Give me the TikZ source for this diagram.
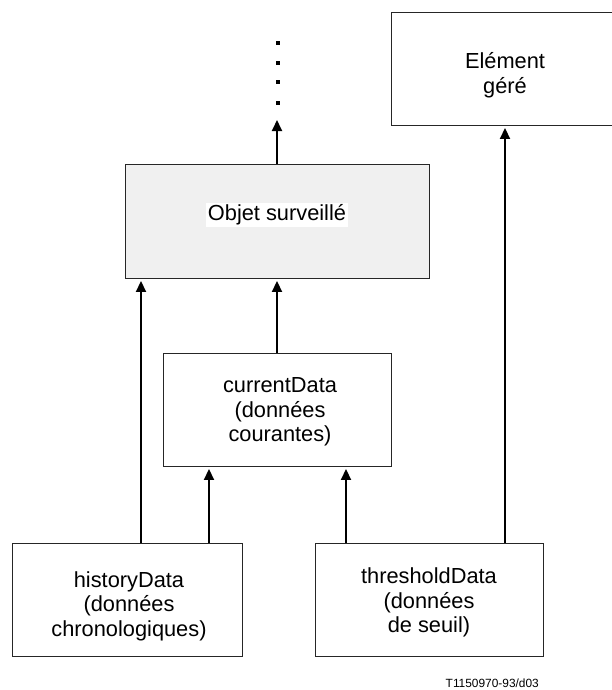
\documentclass[tikz,border=0pt]{standalone}
\usepackage{fontspec}
\setmainfont{Liberation Sans}
\usetikzlibrary{arrows.meta}
\begin{document}
\begin{tikzpicture}[x=1pt,y=-1pt,
  box/.style={draw=black!85, line width=0.9pt, minimum width=#1, minimum height=113pt,
    inner sep=0pt},
  box/.default=228pt,
  txt/.style={align=center, inner sep=0pt, font=\fontsize{21.8}{24.5}\selectfont},
  arr/.style={line width=1.8pt, -{Triangle[length=11pt,width=10pt]}, shorten >=2.5pt},
  dotsq/.style={fill=black}]
\useasboundingbox (0,0) rectangle (612,690);

% boxes
\node[box=304pt, minimum height=114pt, fill=black!6] (obj) at (277,221) {};
\node[box=222pt] (elem) at (502,68.5) {};
\node[box=228pt] (cur) at (277,409.5) {};
\node[box=230pt] (hist) at (127,599.5) {};
\node[box=228pt] (thr) at (429,599.5) {};

% box texts
\node[txt, fill=white, inner sep=1.5pt] (objtxt) at (277,215) {Objet surveillé};
\node[txt] (elemtxt) at (505,75) {Elément\\géré};
\node[txt] (curtxt) at (280,412) {currentData\\(données\\courantes)};
\node[txt] (histtxt) at (129,606) {historyData\\(données\\chronologiques)};
\node[txt] (thrtxt) at (429,602.5) {thresholdData\\(données\\de seuil)};

% continuation upward
\coordinate (top) at (277,120);
\draw[arr, shorten >=0pt] (obj.north) -- (top);
\foreach \y in {43,63,82,103}
  \fill[dotsq] (276,\y-2) rectangle (280,\y+2);

% connectors
\draw[arr] (cur.north) -- (obj.south);
\draw[arr] ([xshift=14pt]hist.north) -- ([xshift=14pt]hist.north |- obj.south);
\draw[arr] ([xshift=82pt]hist.north) -- ([xshift=82pt]hist.north |- cur.south);
\draw[arr] ([xshift=-83pt]thr.north) -- ([xshift=-83pt]thr.north |- cur.south);
\draw[arr] ([xshift=76pt]thr.north) -- ([xshift=76pt]thr.north |- elem.south);

% reference label
\node[anchor=east, inner sep=0pt, font=\fontsize{11.9}{14}\selectfont] (ref) at (539,683) {T1150970-93/d03};
\end{tikzpicture}
\end{document}
